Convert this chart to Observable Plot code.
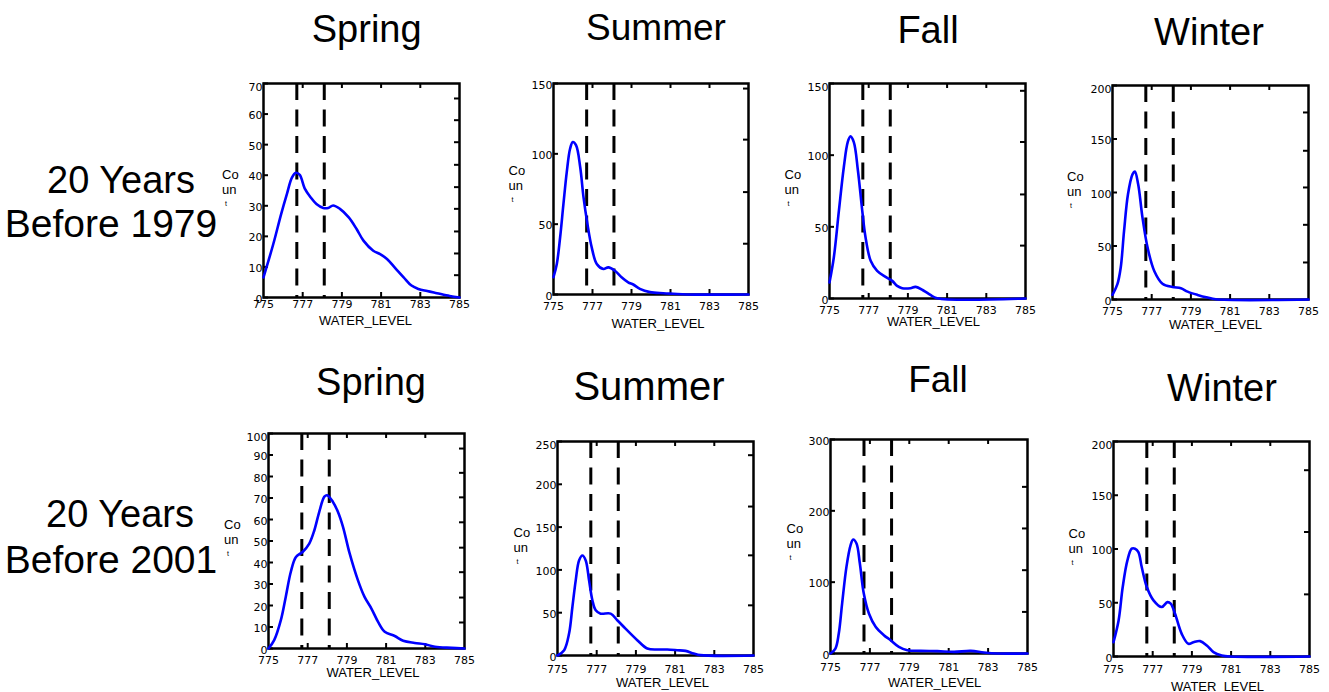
<!DOCTYPE html>
<html><head><meta charset="utf-8">
<script src="https://cdn.jsdelivr.net/npm/d3@7"></script>
<script src="https://cdn.jsdelivr.net/npm/@observablehq/plot@0.6"></script>
<style>
body{margin:0;background:#fff;overflow:hidden}
#root{position:relative;width:1329px;height:692px;overflow:hidden;background:#fff}
.lbl{position:absolute;white-space:nowrap;font-family:"Liberation Sans",Arial,sans-serif;line-height:1;color:#000;transform:translateX(-50%)}
.panel{position:absolute}
</style></head><body><div id="root"></div>
<script>
// ---- data ----
const seasons = ["Spring", "Summer", "Fall", "Winter"];
const periodLine1 = ["20 Years", "20 Years"];
const periodLine2 = ["Before 1979", "Before 2001"];
const xTicks = [775, 777, 779, 781, 783, 785];
const innerXTicks = [777, 779, 781, 783];
const boundaries = [776.7, 778.1];
const xLabel = "WATER_LEVEL";

const spring1979Level = [775, 775.5, 775.9, 776.2, 776.45, 776.65, 776.85, 777.1, 777.4, 777.7, 778.05, 778.3, 778.55, 778.9, 779.35, 779.75, 780.1, 780.6, 780.95, 781.3, 781.7, 782.15, 782.55, 782.9, 783.35, 783.85, 784.5, 785];
const spring1979Count = [6.6, 17.5, 27.3, 34, 39.2, 40.8, 40.1, 35.7, 32.8, 30.6, 29.3, 29.3, 30.1, 29, 26.2, 22.4, 18.6, 15.3, 14.2, 12.6, 9.8, 6.6, 3.9, 2.8, 2.1, 1.4, 0.5, 0];

const summer1979Level = [775, 775.17, 775.34, 775.51, 775.68, 775.85, 775.99, 776.16, 776.37, 776.54, 776.74, 776.96, 777.22, 777.56, 777.81, 778.15, 778.49, 778.83, 779.09, 779.43, 779.95, 780.63, 781.15, 781.83, 785];
const summer1979Count = [12.3, 21.7, 40.7, 64.4, 87, 103.6, 108.4, 106, 90.5, 69.1, 50.2, 33.5, 21.7, 18.1, 19.3, 16.9, 12.3, 8.7, 7.1, 4, 1.7, 0.9, 0.5, 0, 0];

const fall1979Level = [775, 775.22, 775.48, 775.73, 775.93, 776.07, 776.24, 776.45, 776.67, 776.84, 777.1, 777.43, 777.86, 778.2, 778.45, 778.71, 779.13, 779.39, 779.81, 780.15, 780.49, 785];
const fall1979Count = [11.2, 28.6, 61.3, 91.6, 109.1, 113.1, 109.1, 89.3, 61.3, 42.6, 26.3, 19.3, 15.1, 12.3, 8.8, 7.2, 7.2, 8.1, 5.4, 2.5, 0.2, 0];

const winter1979Level = [775, 775.25, 775.42, 775.59, 775.79, 776.02, 776.14, 776.31, 776.53, 776.79, 777.13, 777.55, 778.06, 778.49, 778.83, 779.34, 779.85, 780.27, 785];
const winter1979Count = [4.4, 14.3, 29.9, 64.1, 98.4, 117, 119.5, 107.7, 76.5, 48.5, 26.7, 14.8, 11.7, 10.5, 7.4, 4.3, 1.8, 0.2, 0];

const spring2001Level = [775, 775.29, 775.63, 775.88, 776.14, 776.4, 776.74, 777.08, 777.34, 777.59, 777.85, 777.99, 778.28, 778.54, 778.8, 779.14, 779.56, 779.9, 780.25, 780.59, 780.93, 781.44, 781.87, 782.46, 782.98, 783.49, 784.34, 785];
const spring2001Count = [0, 3.9, 13.2, 24, 35.7, 42.6, 44.9, 48.8, 55, 63.6, 70.6, 71.3, 68.3, 63.6, 56.6, 44.2, 31.8, 24, 18.6, 12.4, 7.8, 5.8, 3.6, 2.6, 2, 0.8, 0.3, 0];

const summer2001Level = [775, 775.34, 775.59, 775.76, 775.93, 776.1, 776.27, 776.44, 776.61, 776.78, 776.95, 777.2, 777.71, 778.05, 778.47, 779.07, 779.58, 780.09, 780.6, 781.11, 781.53, 781.95, 782.29, 785];
const summer2001Count = [0, 6.2, 25.6, 56.7, 87.8, 111.1, 116.9, 111.1, 87.8, 64.5, 52.8, 48.9, 48.9, 41.2, 31.4, 17.9, 8.2, 7, 7, 6.2, 5.4, 2.3, 0.4, 0];

const fall2001Level = [775, 775.25, 775.42, 775.59, 775.81, 776.02, 776.15, 776.32, 776.49, 776.69, 776.95, 777.29, 777.71, 778.05, 778.47, 778.9, 779.58, 780.42, 781.27, 782.12, 782.79, 783.47, 785];
const fall2001Count = [0, 7, 28, 70, 121.4, 151.8, 159.8, 154.2, 126.1, 84, 56, 37.4, 25.7, 18.7, 9.3, 4.7, 3.7, 3.3, 2.3, 3.7, 1.4, 0, 0];

const winter2001Level = [775, 775.26, 775.47, 775.71, 775.93, 776.1, 776.27, 776.44, 776.7, 777.04, 777.46, 777.75, 777.92, 778.14, 778.48, 778.82, 779.08, 779.42, 779.76, 780.1, 780.52, 780.95, 785];
const winter2001Count = [13.3, 33.5, 64.6, 89.4, 100.3, 100.3, 97.2, 83.2, 64.6, 52.2, 46, 50.6, 49.1, 39.7, 21.1, 11.8, 13.3, 14.3, 10.3, 4.1, 1, 0, 0];

const yTicksList = [
  [0, 10, 20, 30, 40, 50, 60, 70],
  [0, 50, 100, 150],
  [0, 50, 100, 150],
  [0, 50, 100, 150, 200],
  [0, 10, 20, 30, 40, 50, 60, 70, 80, 90, 100],
  [0, 50, 100, 150, 200, 250],
  [0, 100, 200, 300],
  [0, 50, 100, 150, 200]
];
const rightTicksList = [
  [7.3, 14.4, 21.6, 29, 36.1, 43.4, 50.8, 58, 65.1],
  [36.1, 72.8, 110.1, 146.4],
  [36.9, 72.6, 109.2, 144.9],
  [34.6, 69.8, 104.7, 139, 174.8],
  [12.1, 23.7, 35.5, 46.9, 58.7, 70.3, 81.7, 93],
  [58.6, 117, 174, 234],
  [58.3, 116.8, 175.3, 233.6],
  [57.8, 115.8, 173.3]
];
const levels = [spring1979Level, summer1979Level, fall1979Level, winter1979Level, spring2001Level, summer2001Level, fall2001Level, winter2001Level];
const counts = [spring1979Count, summer1979Count, fall1979Count, winter1979Count, spring2001Count, summer2001Count, fall2001Count, winter2001Count];

// ---- layout (positions / styles) ----
const layout = [
  {L:263, T:83, W:196, H:214, pad:3, labTop:18.3, labDx:4, coDx:-41.5, coBase:-13, topAlign:true},
  {L:553, T:83, W:195, H:211, pad:8, labTop:24, labDx:7, coDx:-45, coBase:-15.7, topAlign:false},
  {L:829, T:83, W:196, H:215, pad:7.5, labTop:18.5, labDx:6, coDx:-45, coBase:-13.5, topAlign:true},
  {L:1112, T:85, W:196, H:214, pad:8, labTop:20, labDx:5, coDx:-45.5, coBase:-12.7, topAlign:true},
  {L:268, T:433, W:196, H:215, pad:8, labTop:19, labDx:6.5, coDx:-44.5, coBase:-13.8, topAlign:true},
  {L:557, T:441, W:196, H:214, pad:10, labTop:22.7, labDx:7, coDx:-44, coBase:-13, topAlign:true},
  {L:830, T:439, W:197, H:214, pad:10, labTop:24.7, labDx:5.7, coDx:-44, coBase:-15, topAlign:false},
  {L:1113, T:441, W:196, H:215, pad:9, labTop:25, labDx:6, coDx:-45, coBase:-12.7, topAlign:true}
];
const titlePos = [
  {cx:366.7, base:42, fs:38}, {cx:656, base:40, fs:37}, {cx:928, base:43, fs:38}, {cx:1209, base:45.5, fs:38},
  {cx:371, base:395, fs:38}, {cx:649, base:400, fs:40}, {cx:938, base:392, fs:37}, {cx:1222, base:401, fs:38}
];
const rowPos = [
  [{cx:121, base:193, fs:38}, {cx:111, base:237, fs:39}],
  [{cx:120, base:527, fs:38}, {cx:111, base:573, fs:39}]
];

const root = document.getElementById("root");
function addLabel(text, p) {
  const d = document.createElement("div");
  d.className = "lbl";
  d.textContent = text;
  d.style.fontSize = p.fs + "px";
  d.style.left = p.cx + "px";
  d.style.top = (p.base - 0.8465 * p.fs) + "px";
  root.appendChild(d);
}

const mL = 55, mR = 6, mT = 6, mB = 40;
layout.forEach((c, i) => {
  const ys = counts[i];
  const data = levels[i].map((x, j) => ({level: x, count: ys[j]}));
  const yTicks = yTicksList[i];
  const ymax = yTicks[yTicks.length - 1];
  const chart = Plot.plot({
    width: mL + c.W + mR,
    height: mT + c.H + mB,
    marginLeft: mL, marginRight: mR, marginTop: mT, marginBottom: mB,
    x: {domain: [775, 785]},
    y: {domain: [0, ymax]},
    style: {fontFamily: "DejaVu Sans", fontSize: "11px", color: "black", background: "white", overflow: "visible"},
    marks: [
      Plot.ruleX(boundaries, {x: d => d, stroke: "black", strokeWidth: 3, strokeDasharray: "17,9.5"}),
      Plot.frame({stroke: "black", strokeWidth: 2.5}),
      Plot.tickY(yTicks, {y: d => d, insetRight: c.W - 5, stroke: "black", strokeWidth: 2}),
      Plot.tickY(rightTicksList[i], {y: d => d, insetLeft: c.W - 5, stroke: "black", strokeWidth: 2}),
      Plot.tickX(innerXTicks, {x: d => d, insetBottom: c.H - 5, stroke: "black", strokeWidth: 2}),
      Plot.tickX(innerXTicks, {x: d => d, insetTop: c.H - 5, stroke: "black", strokeWidth: 2}),
      Plot.line(data, {x: "level", y: "count", stroke: "#0000ff", strokeWidth: 2.6, curve: "catmull-rom"}),
      Plot.axisX(xTicks, {anchor: "bottom", tickSize: 0, tickPadding: c.pad, label: null}),
      Plot.axisY(c.topAlign ? yTicks.slice(0, -1) : yTicks, {anchor: "left", tickSize: 0, tickPadding: 1, label: null, dy: 1.5}),
      ...(c.topAlign ? [Plot.text([ymax], {y: d => d, frameAnchor: "left", textAnchor: "end", lineAnchor: "top", dx: -1, text: d => String(d)})] : []),
      Plot.text([xLabel], {frameAnchor: "bottom", lineAnchor: "top", dy: c.labTop, dx: c.labDx, fontFamily: "Liberation Sans", fontSize: 13}),
      Plot.text(["Co\nun"], {frameAnchor: "left", textAnchor: "start", lineAnchor: "top", dx: c.coDx, dy: c.coBase - 9.2, fontFamily: "Liberation Sans", fontSize: 13, lineHeight: 1.15}),
      Plot.text(["t"], {frameAnchor: "left", textAnchor: "start", lineAnchor: "top", dx: c.coDx + 3, dy: c.coBase + 23.5, fontFamily: "Liberation Sans", fontSize: 7})
    ]
  });
  chart.classList.add("panel");
  chart.style.left = (c.L - mL) + "px";
  chart.style.top = (c.T - mT) + "px";
  root.appendChild(chart);
});

titlePos.forEach((p, i) => addLabel(seasons[i % 4], p));
rowPos.forEach((r, i) => { addLabel(periodLine1[i], r[0]); addLabel(periodLine2[i], r[1]); });
</script></body></html>
